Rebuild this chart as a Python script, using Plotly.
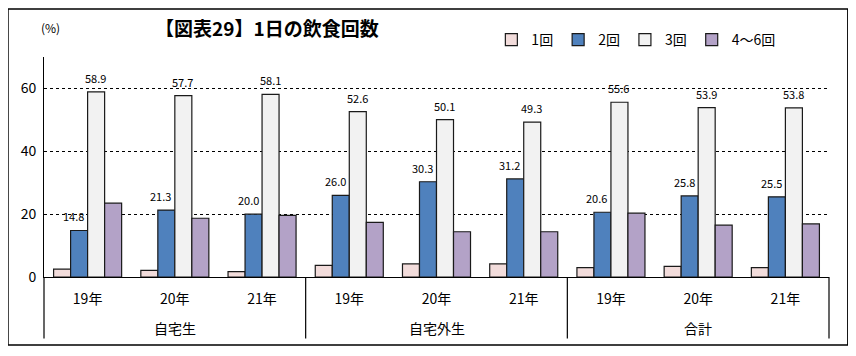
import plotly.graph_objects as go

groups = ["自宅生", "自宅外生", "合計"]
years = ["19年", "20年", "21年"]
categories = [f"{g}-{y}" for g in groups for y in years]
tick_text = [y for g in groups for y in years]

once = [2.5, 2.1, 1.7, 3.7, 4.2, 4.2, 3.0, 3.4, 3.0]
twice = [14.8, 21.3, 20.0, 26.0, 30.3, 31.2, 20.6, 25.8, 25.5]
thrice = [58.9, 57.7, 58.1, 52.6, 50.1, 49.3, 55.6, 53.9, 53.8]
four_six = [23.5, 18.7, 19.6, 17.4, 14.4, 14.4, 20.3, 16.5, 16.9]

# (name, values, colour, label x-offset in px or None)
series = [
    ("1回", once, "#F2DCDB", None),
    ("2回", twice, "#4F81BD", -14),
    ("3回", thrice, "#F2F2F2", 8),
    ("4～6回", four_six, "#B3A2C7", None),
]

FONT = "Noto Sans CJK JP"

fig = go.Figure()
for name, vals, color, _ in series:
    fig.add_trace(go.Bar(
        x=categories, y=vals, name=name,
        marker=dict(color=color, line=dict(color="#1a1a1a", width=1.2)),
    ))

n_groups = len(groups)
annotations = [
    dict(text="<b>【図表29】1日の飲食回数</b>", xref="paper", yref="paper",
         x=0.284, y=1.135, xanchor="center", yanchor="middle", showarrow=False,
         font=dict(size=19)),
    dict(text="(%)", xref="paper", yref="paper", x=0.008, y=1.135,
         xanchor="center", yanchor="middle", showarrow=False, font=dict(size=12)),
]
for i, g in enumerate(groups):
    annotations.append(dict(text=g, xref="paper", yref="paper",
                            x=(i + 0.5) / n_groups, y=-0.23,
                            xanchor="center", yanchor="middle", showarrow=False,
                            font=dict(size=14)))
for name, vals, color, dx in series:
    if dx is None:
        continue
    for cat, v in zip(categories, vals):
        annotations.append(dict(text=f"{v:.1f}", xref="x", yref="y", x=cat, y=v,
                                xanchor="center", yanchor="middle",
                                xshift=dx, yshift=14, showarrow=False,
                                font=dict(size=11)))

shapes = [
    dict(type="rect", xref="paper", yref="paper", x0=-0.0459, x1=1.024,
         y0=-0.309, y1=1.218, line=dict(color="#000", width=1.5), layer="below"),
]
for i in range(n_groups + 1):
    shapes.append(dict(type="line", xref="paper", yref="paper",
                       x0=i / n_groups, x1=i / n_groups, y0=0, y1=-0.28,
                       line=dict(color="#000", width=1.2)))

fig.update_layout(
    width=848, height=348,
    margin=dict(l=36, r=27, t=49, b=79, autoexpand=False),
    paper_bgcolor="white", plot_bgcolor="white",
    barmode="group", bargap=0.22, bargroupgap=0,
    font=dict(family=FONT, color="#000", size=14),
    showlegend=True,
    legend=dict(orientation="h", xref="container", yref="container",
                x=0.570, y=0.908, xanchor="left", yanchor="middle",
                font=dict(size=14), itemwidth=30, traceorder="normal",
                bgcolor="rgba(0,0,0,0)"),
    annotations=annotations,
    shapes=shapes,
)

fig.update_yaxes(range=[0, 70], tickvals=[0, 20, 40, 60], showgrid=True,
                 gridcolor="#000", griddash="dot", gridwidth=1,
                 showline=True, linecolor="#000", linewidth=1, zeroline=False,
                 ticks="", tickfont=dict(size=14), automargin=False,
                 ticklabelstandoff=4)
fig.update_xaxes(showline=True, linecolor="#000", linewidth=1.2, ticks="",
                 tickvals=categories, ticktext=tick_text,
                 tickfont=dict(size=14), automargin=False,
                 ticklabelstandoff=9)

fig.write_html("out.html")
